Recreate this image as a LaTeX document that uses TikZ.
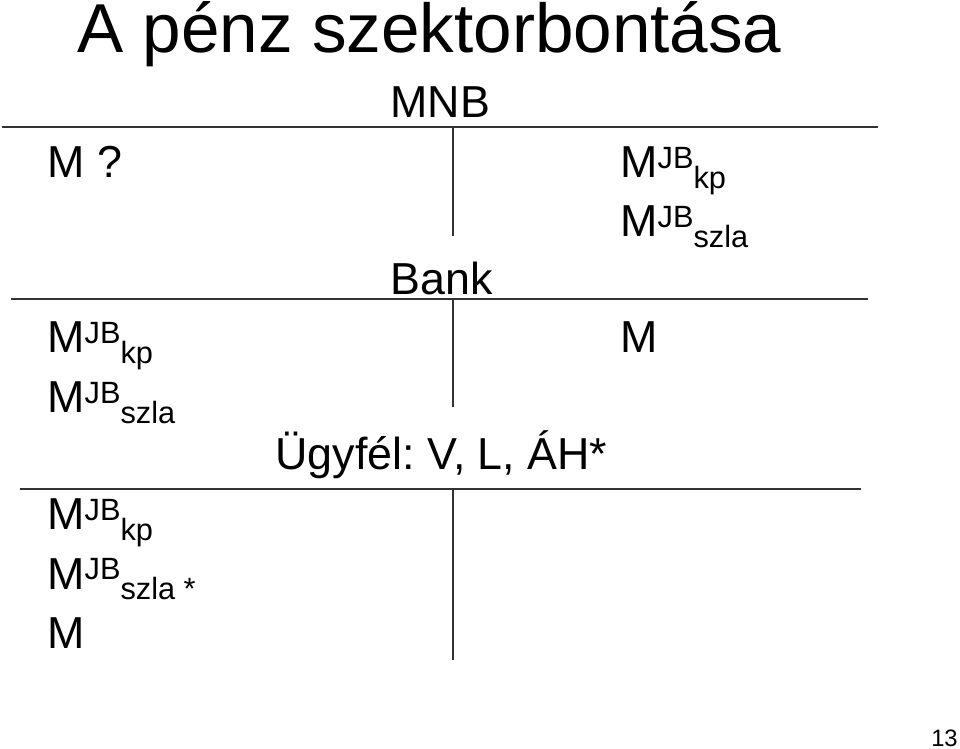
\documentclass[tikz,border=0pt]{standalone}
\usepackage{fontspec}
\setmainfont{Liberation Sans}
\usepackage{tikz}
\frenchspacing

\newcommand{\mjb}[1]{M\raisebox{5.2pt}{\fontsize{17.5}{17.5}\selectfont JB}\raisebox{-6.2pt}{\fontsize{17.5}{17.5}\selectfont #1}}

\tikzset{
	txt/.style={anchor=base west, inner sep=0pt, font=\fontsize{25.5}{25.5}\selectfont},
	tline/.style={line width=0.85pt, draw=black!80}
}

\begin{document}
\begin{tikzpicture}[x=0.02cm, y=-0.02cm]
	\useasboundingbox (0,0) rectangle (960,749);

	% T-konto vonalak
	\coordinate (MNBl) at (2, 127);
	\coordinate (MNBr) at (878, 127);
	\coordinate (MNBt) at (453, 127);
	\coordinate (MNBb) at (453, 236);
	\coordinate (BANKl) at (11, 299);
	\coordinate (BANKr) at (868, 299);
	\coordinate (BANKt) at (453, 299);
	\coordinate (BANKb) at (453, 407);
	\coordinate (UGYl) at (20, 489);
	\coordinate (UGYr) at (861, 489);
	\coordinate (UGYt) at (453, 489);
	\coordinate (UGYb) at (453, 660);

	\draw [tline] (MNBl) -- (MNBr);
	\draw [tline] (MNBt) -- (MNBb);
	\draw [tline] (BANKl) -- (BANKr);
	\draw [tline] (BANKt) -- (BANKb);
	\draw [tline] (UGYl) -- (UGYr);
	\draw [tline] (UGYt) -- (UGYb);

	\node [txt, font=\fontsize{39.4}{39.4}\selectfont] (title) at (77, 53) {A pénz szektorbontása};

	% MNB
	\node [txt] (mnb) at (390, 118) {MNB};
	\node [txt] (mq) at (47, 178) {M ?};
	\node [txt] (mkp) at (620, 178) {\mjb{kp}};
	\node [txt] (mszla) at (620, 237) {\mjb{szla}};

	% Bank
	\node [txt] (bank) at (390, 295) {Bank};
	\node [txt] (bkp) at (47, 353) {\mjb{kp}};
	\node [txt] (bszla) at (47, 413) {\mjb{szla}};
	\node [txt] (bm) at (620, 353) {M};

	% Ugyfel
	\node [txt] (ugyfel) at (275, 470) {Ügyfél: V, L, ÁH*};
	\node [txt] (ukp) at (47, 530) {\mjb{kp}};
	\node [txt] (uszla) at (47, 589) {\mjb{szla *}};
	\node [txt] (um) at (47, 648) {M};

	\node [anchor=base east, inner sep=0pt, font=\fontsize{13.5}{13.5}\selectfont] (page) at (958, 746) {13};
\end{tikzpicture}
\end{document}
